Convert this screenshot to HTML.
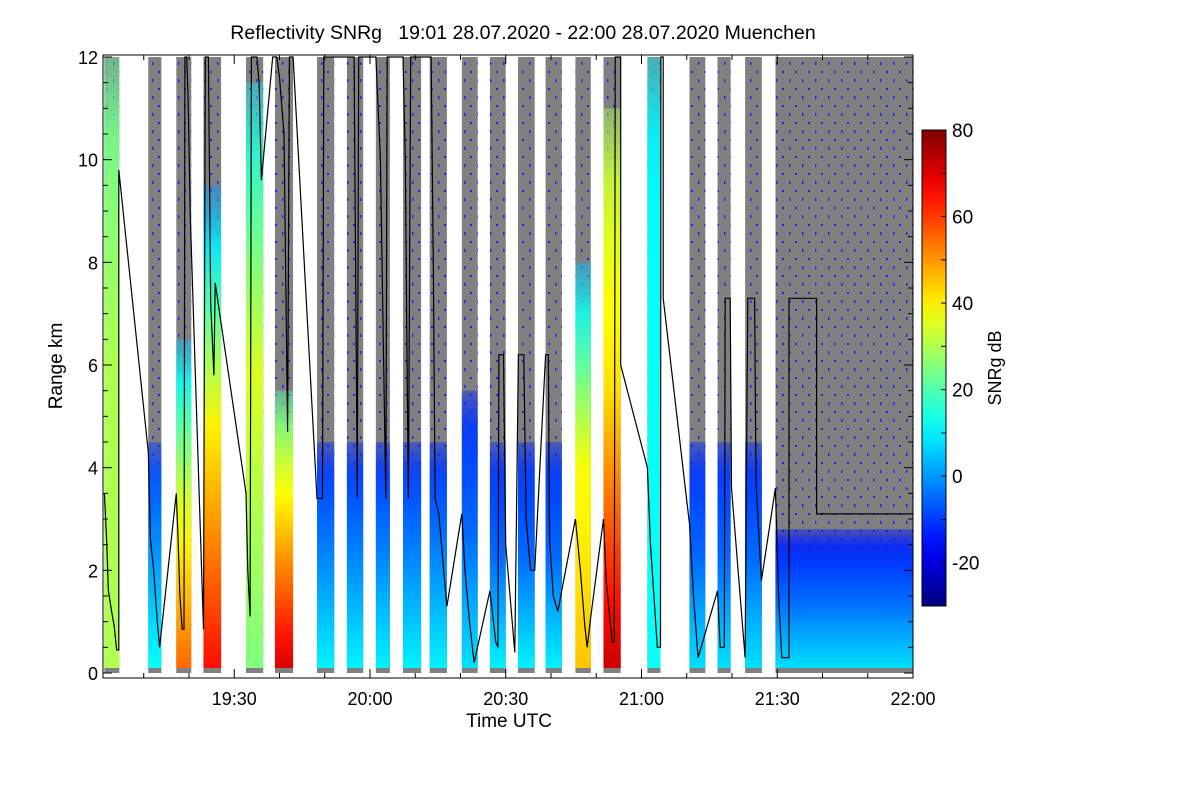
<!DOCTYPE html>
<html><head><meta charset="utf-8"><style>
body{margin:0;background:#fff;width:1200px;height:800px;overflow:hidden;font-family:"Liberation Sans",sans-serif}
svg text{font-family:"Liberation Sans",sans-serif;fill:#000;white-space:pre}
</style></head><body>
<svg id="chart" width="1200" height="800">
<defs>
<pattern id="speck" width="13" height="17" patternUnits="userSpaceOnUse">
<rect x="2" y="3" width="2" height="2" fill="#1428ff"/><rect x="9" y="11" width="1.5" height="3" fill="#1428ff"/>
</pattern>
<linearGradient id="jetbar" x1="0" y1="1" x2="0" y2="0"></linearGradient>
</defs>
<g id="plot"></g>
<text x="523" y="39" text-anchor="middle" font-size="19.5">Reflectivity SNRg   19:01 28.07.2020 - 22:00 28.07.2020 Muenchen</text>
<text x="509" y="727" text-anchor="middle" font-size="19">Time UTC</text>
<text transform="translate(62,366) rotate(-90)" text-anchor="middle" font-size="19">Range km</text>
<text transform="translate(1001,368) rotate(-90)" text-anchor="middle" font-size="18">SNRg dB</text>
</svg>
<script>
// data: scan strips (minutes after 19:00), colored top height km, SNR dB at bottom / middle / top of colored part
const stripStart=[1.3,11.0,17.2,23.2,32.6,39.0,48.3,54.9,61.3,67.3,73.2,80.3,86.5,92.7,98.8,105.4,111.6,121.3,130.6,136.8,142.9,149.6];
const stripEnd=[4.6,13.9,20.5,27.1,36.4,43.0,52.1,58.5,64.4,71.3,77.0,83.8,90.0,96.4,102.4,108.8,115.4,124.2,134.1,139.7,146.6,180];
const stripTop=[12,4.5,6.5,9.5,11.5,5.5,4.5,4.5,4.5,4.5,4.5,5.5,4.5,4.5,4.5,8,11,12,4.5,4.5,4.5,2.8];
const stripLow=[30,12,55,65,25,70,10,10,10,10,10,8,10,10,10,45,72,12,8,8,8,8];
const stripMid=[30,0,35,40,35,45,-2,-2,-2,-2,-2,-5,-5,-5,-5,38,42,12,-5,-5,-5,-5];
const stripHigh=[22,-10,5,0,10,20,-12,-12,-12,-12,-12,-12,-12,-12,-12,5,30,10,-12,-12,-12,-15];
const lineMin=[1.3,1.8,2.2,2.9,3.5,4.0,4.5,4.5,11.0,11.5,12.2,13.0,13.5,17.2,17.6,18.0,18.5,18.9,19.1,19.5,19.8,20.3,23.2,23.6,24.3,24.8,25.5,25.8,32.6,33.0,33.5,33.8,35.0,35.5,36.0,38.5,39.4,40.0,41.0,41.8,42.2,43.0,48.3,49.5,49.8,56.5,57.2,57.5,61.3,62.3,63.5,63.8,67.3,67.8,68.2,68.5,69.0,73.5,74.0,74.4,75.2,76.3,77.0,80.3,81.0,82.0,83.0,86.5,87.8,88.3,88.5,89.5,90.0,92.0,92.8,94.0,94.5,95.5,96.4,98.8,99.4,99.7,100.5,101.5,105.4,106.5,107.5,108.0,108.8,111.6,112.2,113.5,114.0,114.2,115.4,115.4,121.3,122.0,123.5,124.2,124.3,124.8,124.8,130.6,131.5,132.5,136.8,137.4,138.3,138.5,139.6,139.9,142.9,143.5,145.0,145.3,146.5,149.6,150.3,151.0,152.6,152.6,158.7,158.7,180];
const lineKm=[3.5,2.6,1.6,1.2,0.9,0.45,0.45,9.8,4.3,2.6,2.0,1.0,0.5,3.5,2.6,1.5,0.85,0.85,12,12,11.2,8.9,0.85,12,12,7.2,5.8,7.6,3.5,2.0,1.1,12,12,11.5,9.6,12,12,11.6,10.5,4.7,12,12,3.4,3.4,12,12,3.4,12,12,10,3.4,12,12,10,6,3.4,12,12,8,3.4,3.1,2.0,1.3,3.1,2.0,1.0,0.2,1.6,0.6,0.5,6.2,6.2,2.5,0.4,6.2,6.2,3.0,2.0,2.0,6.2,6.2,2.6,1.5,1.2,3.0,2.0,0.9,0.5,1.1,3.0,1.8,0.6,0.6,12,12,6.0,4.0,2.5,0.5,0.5,12,12,7.3,2.9,1.5,0.3,1.6,0.5,0.5,7.3,7.3,3.6,0.3,7.3,7.3,3.7,1.8,3.6,1.5,0.3,0.3,7.3,7.3,3.1,3.1];
const xTickLabels=["19:30","20:00","20:30","21:00","21:30","22:00"];
const xTickMins=[30,60,90,120,150,180];
const yTicks=[0,2,4,6,8,10,12];
const cbTicks=[80,60,40,20,0,-20];

const NS="http://www.w3.org/2000/svg";
const X0=103,X1=913,Y0=673,Y1=57,TMIN=1,TMAX=180;
const xs=m=>X0+(m-TMIN)/(TMAX-TMIN)*(X1-X0);
const ys=k=>Y0+(k)/12*(Y1-Y0);
const CB0=606,CB1=130,CBmin=-30,CBmax=80;
const cy=v=>CB0+(v-CBmin)/(CBmax-CBmin)*(CB1-CB0);
function jet(v){let t=(v-CBmin)/(CBmax-CBmin);t=Math.max(0,Math.min(1,t));
 const f=(a)=>Math.round(255*Math.max(0,Math.min(1,1.5-Math.abs(4*t-a))));
 return `rgb(${f(3)},${f(2)},${f(1)})`;}
function mk(tag,attrs,parent){const e=document.createElementNS(NS,tag);for(const k in attrs)e.setAttribute(k,attrs[k]);(parent||document.getElementById('plot')).appendChild(e);return e;}
const svg=document.getElementById('chart'),defs=svg.querySelector('defs'),plot=document.getElementById('plot');

stripStart.forEach((s,i)=>{
 const x=xs(s),w=xs(stripEnd[i])-x;
 const g=mk('g',{});
 
 
 mk('rect',{x:x,y:Y1,width:w,height:Y0-Y1,fill:'#808080'},g);
 mk('rect',{x:x,y:Y1,width:w,height:Y0-Y1,fill:'url(#speck)'},g);
 const gid='sg'+i;const lg=mk('linearGradient',{id:gid,x1:0,y1:1,x2:0,y2:0},defs);
 const lo=stripLow[i],mi=stripMid[i],hi=stripHigh[i];
 for(let k=0;k<=8;k++){const t=k/8;const v=t<0.5?lo+(mi-lo)*t*2:mi+(hi-mi)*(t-0.5)*2;
  mk('stop',{offset:t,'stop-color':jet(v),'stop-opacity':t>0.85?1-(t-0.85)*4:1},lg);}
 const top=ys(stripTop[i]);
 const col=mk('rect',{x:x,y:top,width:w,height:Y0-5-top,fill:'url(#'+gid+')'},g);
 
 
});
let pts=lineMin.map((m,i)=>xs(m).toFixed(1)+','+ys(lineKm[i]).toFixed(1)).join(' ');
const pl=mk('polyline',{points:pts,fill:'none',stroke:'#000','stroke-width':1.2});


const fr=mk('rect',{x:X0,y:55,width:X1-X0,height:623,fill:'none',stroke:'#000','stroke-width':1},svg);


for(let m=10;m<=180;m+=10){const x=xs(m);mk('line',{x1:x,y1:678,x2:x,y2:m%30?673:669,stroke:'#000'},svg);mk('line',{x1:x,y1:55,x2:x,y2:m%30?60:64,stroke:'#000'},svg);}
xTickMins.forEach((m,i)=>{const t=mk('text',{x:xs(m),y:705,'text-anchor':'middle','font-size':18},svg);t.textContent=xTickLabels[i];
 
 });
for(let k=0;k<=12;k+=0.5){const y=ys(k);const L=k%2?5:(k%1?3:9);mk('line',{x1:X0,y1:y,x2:X0+L,y2:y,stroke:'#000'},svg);mk('line',{x1:X1,y1:y,x2:X1-L,y2:y,stroke:'#000'},svg);}
yTicks.forEach(k=>{const t=mk('text',{x:98,y:ys(k)+7,'text-anchor':'end','font-size':18},svg);t.textContent=k;
 
 });
const jb=document.getElementById('jetbar');for(let k=0;k<=20;k++){mk('stop',{offset:k/20,'stop-color':jet(CBmin+k/20*(CBmax-CBmin))},jb);}
const cb=mk('rect',{x:922,y:CB1,width:24,height:CB0-CB1,fill:'url(#jetbar)',stroke:'#000'},svg);


for(let v=-30;v<=80;v+=10){mk('line',{x1:941,y1:cy(v),x2:946,y2:cy(v),stroke:'#000'},svg);}
cbTicks.forEach(v=>{const t=mk('text',{x:952,y:cy(v)+7,'font-size':19},svg);t.textContent=v;
 
 });
</script>
</body></html>
